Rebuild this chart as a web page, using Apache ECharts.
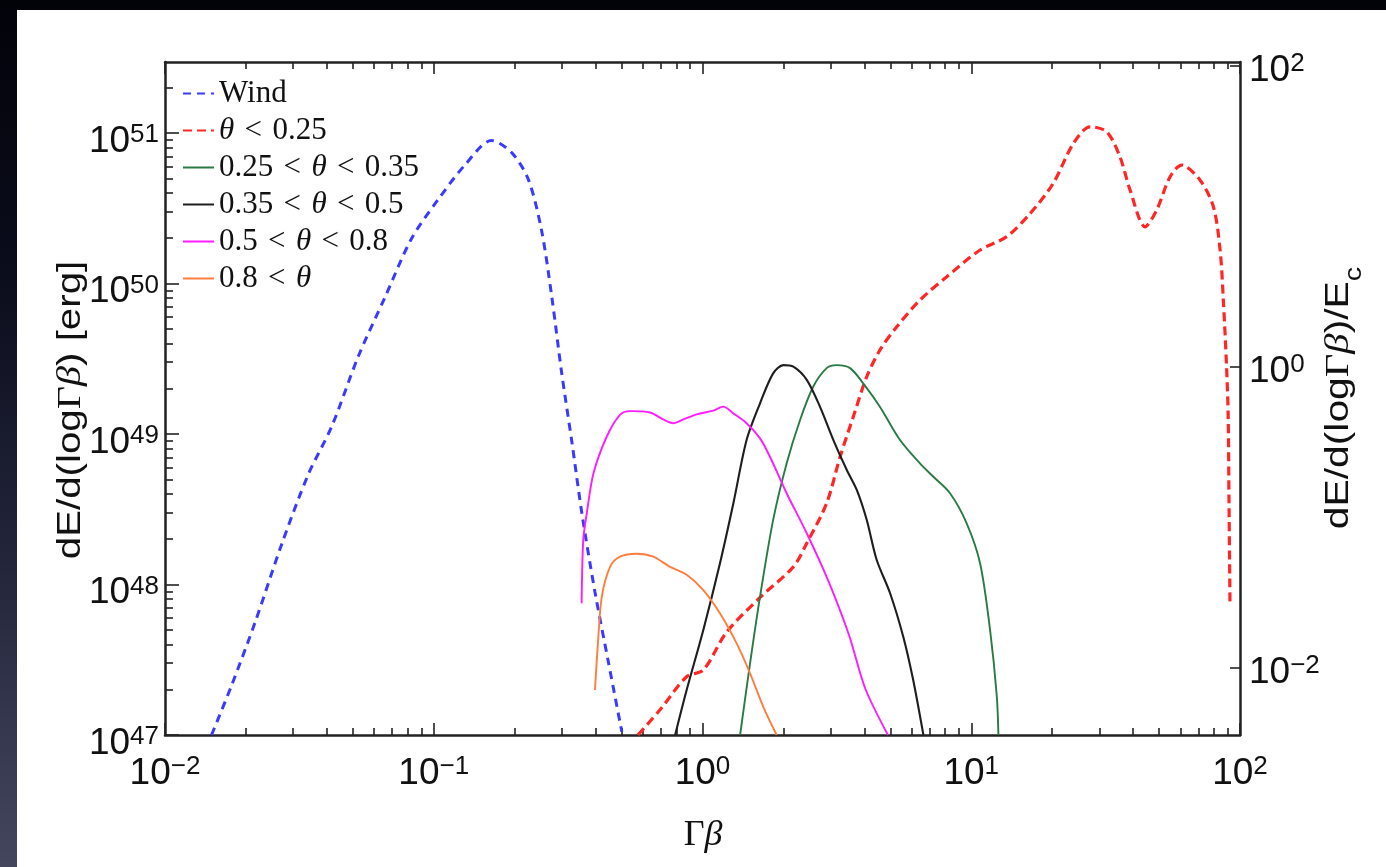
<!DOCTYPE html>
<html>
<head>
<meta charset="utf-8">
<script src="https://cdn.jsdelivr.net/npm/echarts@6/dist/echarts.min.js"></script>
<style>
html,body{margin:0;padding:0;width:1386px;height:867px;overflow:hidden;}
body{background:linear-gradient(180deg,#020309 0%,#0a0c1b 30%,#23263b 65%,#43465d 100%);}
#panel{position:absolute;left:17px;top:10px;right:0;bottom:0;background:#fff;}
#chart{position:absolute;left:0;top:0;width:1386px;height:867px;}
</style>
</head>
<body>
<div id="panel"></div>
<div id="chart"></div>
<script>
// ---------------- data ----------------
const seriesNames = ['Wind', 'θ < 0.25', '0.25 < θ < 0.35', '0.35 < θ < 0.5', '0.5 < θ < 0.8', '0.8 < θ'];

// [Γβ, dE/d(log Γβ) in erg]
const windData = [[0.0149,1.0e47],[0.0177,2.14e47],[0.0216,5.56e47],[0.0272,1.86e48],[0.0341,5.37e48],
  [0.0417,1.12e49],[0.0525,3.31e49],[0.0659,8.13e49],[0.0828,2.0e50],[0.104,3.63e50],[0.131,6.17e50],
  [0.164,8.91e50],[0.195,7.41e50],[0.225,4.90e50],[0.252,2.24e50],[0.275,8.13e49],[0.299,2.57e49],
  [0.327,8.71e48],[0.356,2.95e48],[0.398,8.91e47],[0.447,3.02e47],[0.501,1.05e47]];

const thetaLt025Data = [[0.575,1.0e47],[0.695,1.47e47],[0.873,2.44e47],[1.007,2.70e47],[1.23,4.83e47],
  [1.637,8.20e47],[2.178,1.31e48],[2.443,1.88e48],[2.897,3.47e48],[3.251,7.06e48],[3.639,1.30e49],
  [4.083,2.40e49],[4.571,3.61e49],[5.284,5.16e49],[6.442,7.76e49],[8.11,1.11e50],[10.79,1.67e50],
  [13.55,2.05e50],[16.56,2.92e50],[20.18,4.63e50],[23.99,8.53e50],[27.67,1.10e51],[31.92,1.02e51],
  [35.73,6.97e50],[38.99,4.18e50],[44.36,2.38e50],[48.98,3.08e50],[54.95,5.13e50],[60.67,6.12e50],
  [70.96,4.88e50],[79.62,3.24e50],[84.33,1.67e50],[86.7,7.76e49],[89.13,2.80e49],[90.36,1.34e49],
  [91.0,3.64e48],[91.8,7.31e47]];

const theta025to035Data = [[1.38,1.0e47],[1.503,2.99e47],[1.637,8.30e47],[1.832,2.69e48],[2.056,6.38e48],
  [2.307,1.24e49],[2.582,2.06e49],[2.897,2.74e49],[3.155,2.87e49],[3.54,2.74e49],[3.963,2.17e49],
  [4.571,1.52e49],[5.433,9.12e48],[6.442,6.38e48],[7.228,5.20e48],[8.337,4.04e48],[9.616,2.55e48],
  [10.79,1.38e48],[11.75,4.99e47],[12.45,1.80e47],[12.62,1.0e47]];

const theta035to05Data = [[0.791,1.0e47],[0.873,1.99e47],[1.007,4.99e47],[1.161,1.38e48],[1.303,3.47e48],
  [1.459,9.12e48],[1.637,1.60e49],[1.832,2.53e49],[2.0,2.87e49],[2.178,2.80e49],[2.443,2.29e49],
  [2.735,1.52e49],[3.069,9.12e48],[3.443,5.77e48],[3.75,4.25e48],[4.083,2.69e48],[4.446,1.46e48],
  [4.989,8.75e47],[5.585,4.50e47],[6.081,2.32e47],[6.637,1.0e47]];

const theta05to08Data = [[0.355,7.50e47],[0.36,1.98e48],[0.371,2.97e48],[0.393,5.48e48],[0.44,9.59e48],
  [0.493,1.34e49],[0.537,1.42e49],[0.638,1.39e49],[0.714,1.25e49],[0.778,1.18e49],[0.849,1.25e49],
  [0.951,1.35e49],[1.096,1.43e49],[1.194,1.52e49],[1.303,1.37e49],[1.459,1.18e49],[1.637,9.35e48],
  [1.782,7.06e48],[2.056,4.04e48],[2.443,2.19e48],[2.944,1.05e48],[3.508,4.62e47],[4.036,2.03e47],
  [4.898,1.0e47]];

const thetaGt08Data = [[0.398,1.99e47],[0.409,4.28e47],[0.422,8.30e47],[0.453,1.31e48],[0.493,1.53e48],
  [0.569,1.60e48],[0.656,1.53e48],[0.757,1.31e48],[0.873,1.16e48],[1.007,9.18e47],[1.161,6.44e47],
  [1.34,4.06e47],[1.503,2.57e47],[1.683,1.54e47],[1.888,1.0e47]];

// axis ranges and ticks
const gbMin = 0.01, gbMax = 100;
const energyMin = 1e47, energyMax = 2.965e51;
const Ec = 2.79e49;   // normalisation of the right axis (10^0 on the right ↔ this energy on the left)
const xMajorTicks = [0.01, 0.1, 1, 10, 100];
const xMinorTicks = [0.02,0.03,0.04,0.05,0.06,0.07,0.08,0.09,
  0.2,0.3,0.4,0.5,0.6,0.7,0.8,0.9, 2,3,4,5,6,7,8,9, 20,30,40,50,60,70,80,90];
const leftMajorTicks = [1e47, 1e48, 1e49, 1e50, 1e51];
const leftMinorTicks = [2e47,3e47,4e47,5e47,6e47,7e47,8e47,9e47, 2e48,3e48,4e48,5e48,6e48,7e48,8e48,9e48,
  2e49,3e49,4e49,5e49,6e49,7e49,8e49,9e49, 2e50,3e50,4e50,5e50,6e50,7e50,8e50,9e50, 2e51];
const rightMajorTicks = [0.01, 1, 100];

// ---------------- styling ----------------
const SANS = "'Liberation Sans',Arial,Helvetica,sans-serif";
const SERIF = "'Liberation Serif','Times New Roman','DejaVu Serif',serif";
const INK = '#111';

function powLabel(v) {
  const lg = Math.log10(v);
  const e = Math.round(lg);
  if (Math.abs(lg - e) > 1e-6) return '';
  const s = e < 0 ? '\u2212' + (-e) : String(e);
  return '{b|10}{s|' + s + '}';
}
const labelRich = {
  b: {fontFamily: SANS, fontSize: 37, lineHeight: 38, color: INK, verticalAlign: 'bottom'},
  s: {fontFamily: SANS, fontSize: 26, lineHeight: 26, color: INK, verticalAlign: 'top', padding: [0, 0, 28, 0]}
};

function logAxis(extra) {
  return Object.assign({
    type: 'log', logBase: 10, gridIndex: 0,
    axisLine: {show: true, onZero: false, lineStyle: {color: '#222', width: 2.5}},
    axisTick: {show: false},
    axisLabel: {show: false},
    splitLine: {show: false},
    minorTick: {show: false},
    minorSplitLine: {show: false}
  }, extra);
}
function tickStyle(vals, len) {
  return {show: true, inside: true, length: len, customValues: vals, lineStyle: {color: '#222', width: 1.6}};
}

const option = {
  backgroundColor: 'transparent',
  animation: false,
  grid: {left: 165, right: 146, top: 62, bottom: 132, containLabel: false, outerBoundsMode: 'none'},
  legend: {
    orient: 'vertical', left: 182, top: 78, padding: 0,
    itemWidth: 31, itemHeight: 14, itemGap: 6,
    selectedMode: false,
    itemStyle: {opacity: 0},
    data: seriesNames,
    formatter: n => n.replace(/ < /g, '\u2004<\u2004').replace(/θ/g, '{i|θ}'),
    textStyle: {
      fontFamily: SERIF, fontSize: 31, lineHeight: 30, color: INK,
      rich: {i: {fontFamily: SERIF, fontStyle: 'italic', fontSize: 31, lineHeight: 30, color: INK}}
    }
  },
  xAxis: [
    logAxis({min: gbMin, max: gbMax, position: 'bottom',
      axisTick: tickStyle(xMajorTicks, 12),
      axisLabel: {show: true, customValues: xMajorTicks, formatter: powLabel, margin: 19, rich: labelRich}}),
    logAxis({min: gbMin, max: gbMax, position: 'top', axisTick: tickStyle(xMajorTicks, 12)}),
    logAxis({min: gbMin, max: gbMax, position: 'bottom', axisLine: {show: false}, axisTick: tickStyle(xMinorTicks, 7)}),
    logAxis({min: gbMin, max: gbMax, position: 'top', axisLine: {show: false}, axisTick: tickStyle(xMinorTicks, 7)})
  ],
  yAxis: [
    logAxis({min: energyMin, max: energyMax, position: 'left',
      axisTick: tickStyle(leftMajorTicks, 14),
      axisLabel: {show: true, customValues: leftMajorTicks, formatter: powLabel, margin: 6,
        padding: [16, 0, 0, 0], rich: labelRich}}),
    logAxis({min: energyMin / Ec, max: energyMax / Ec, position: 'right',
      axisTick: tickStyle(rightMajorTicks, 10),
      axisLabel: {show: true, customValues: rightMajorTicks, formatter: powLabel, margin: 9,
        padding: [8, 0, 0, 0], rich: labelRich}}),
    logAxis({min: energyMin, max: energyMax, position: 'left', axisLine: {show: false}, axisTick: tickStyle(leftMinorTicks, 8)})
  ],
  series: [
    {name: seriesNames[0], data: windData, color: '#3a3aff', lineStyle: {width: 3, type: [8, 6]}},
    {name: seriesNames[1], data: thetaLt025Data, color: '#ff2626', lineStyle: {width: 3.2, type: [9, 5]}},
    {name: seriesNames[2], data: theta025to035Data, color: '#2a7a45', lineStyle: {width: 1.9}},
    {name: seriesNames[3], data: theta035to05Data, color: '#1e1e1e', lineStyle: {width: 2.1}},
    {name: seriesNames[4], data: theta05to08Data, color: '#ff1cff', lineStyle: {width: 1.9}},
    {name: seriesNames[5], data: thetaGt08Data, color: '#ff7d3d', lineStyle: {width: 1.9}}
  ].map(s => Object.assign({type: 'line', xAxisIndex: 0, yAxisIndex: 0, symbol: 'none', smooth: 0.3,
      clip: true, silent: true}, s)),
  graphic: [
    {type: 'text', x: 71, y: 410, rotation: Math.PI / 2, scaleX: 1.22, silent: true,
      style: {text: '{a|dE/d(log}{g|Γ}{gi|β}{a|) [erg]}', align: 'center', verticalAlign: 'middle',
        rich: {a: {fontFamily: SANS, fontSize: 33, fill: INK},
               g: {fontFamily: SERIF, fontSize: 33, fill: INK},
               gi: {fontFamily: SERIF, fontStyle: 'italic', fontSize: 33, fill: INK}}}},
    {type: 'text', x: 1340, y: 398, rotation: Math.PI / 2, scaleX: 1.2, silent: true,
      style: {text: '{a|dE/d(log}{g|Γ}{gi|β}{a|)/E}{sub|c}', align: 'center', verticalAlign: 'middle',
        rich: {a: {fontFamily: SANS, fontSize: 34, lineHeight: 36, verticalAlign: 'top', fill: INK},
               g: {fontFamily: SERIF, fontSize: 34, lineHeight: 36, verticalAlign: 'top', fill: INK},
               gi: {fontFamily: SERIF, fontStyle: 'italic', fontSize: 34, lineHeight: 36, verticalAlign: 'top', fill: INK},
               sub: {fontFamily: SANS, fontSize: 24, lineHeight: 24, verticalAlign: 'top', padding: [20, 0, 0, 0], fill: INK}}}},
    {type: 'text', x: 703, y: 836, silent: true,
      style: {text: '{g|Γ}{gi|β}', align: 'center', verticalAlign: 'middle',
        rich: {g: {fontFamily: SERIF, fontSize: 36, fill: INK},
               gi: {fontFamily: SERIF, fontStyle: 'italic', fontSize: 36, fill: INK}}}}
  ]
};

const chart = echarts.init(document.getElementById('chart'), null, {renderer: 'canvas'});
chart.setOption(option);
</script>
</body>
</html>
